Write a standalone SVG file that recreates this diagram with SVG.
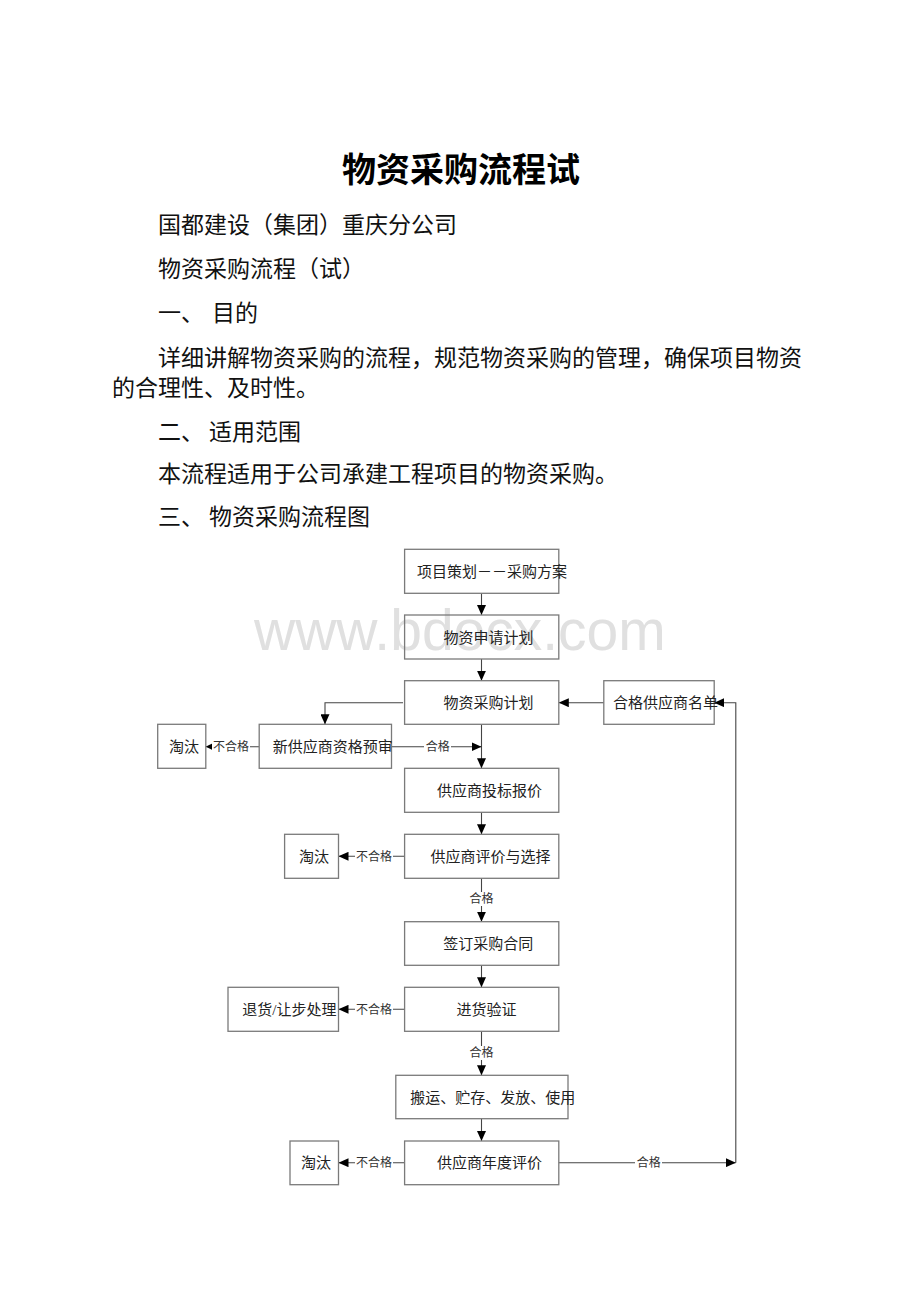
<svg xmlns="http://www.w3.org/2000/svg" width="920" height="1302" viewBox="0 0 920 1302">
<style>
.body{font-family:"Liberation Serif","Noto Sans CJK SC",serif;font-size:23px;fill:#111}
.title{font-family:"Liberation Serif","Noto Sans CJK SC",serif;font-size:34px;font-weight:bold;fill:#000}
.box{fill:none;stroke:#7a7a7a;stroke-width:1.3}
.bt{font-family:"Liberation Serif","Noto Sans CJK SC",serif;font-size:15px;fill:#222;text-anchor:middle}
.lbl{font-family:"Liberation Serif","Noto Sans CJK SC",serif;font-size:12px;fill:#333;text-anchor:middle}
.ln{fill:none;stroke:#444;stroke-width:1.1}
.wm{font-family:"Liberation Sans",Arial,sans-serif;font-size:57px;fill:#e0e0e0}
</style>
<defs>
<marker id="ah" markerUnits="userSpaceOnUse" markerWidth="10" markerHeight="9" refX="10" refY="4.5" orient="auto"><path d="M0,0 L10,4.5 L0,9 z" fill="#000"/></marker>
<marker id="ahs" markerUnits="userSpaceOnUse" markerWidth="7" markerHeight="7" refX="7" refY="3.5" orient="auto"><path d="M0,0 L7,3.5 L0,7 z" fill="#000"/></marker>
</defs>
<rect width="920" height="1302" fill="#fff"/>
<g id="watermark"><text class="wm" x="254" y="650">www.bdocx.com</text></g>
<g id="document-text">
<text class="title" x="461" y="182" text-anchor="middle">物资采购流程试</text>
<text class="body" x="158" y="233">国都建设（集团）重庆分公司</text>
<text class="body" x="158" y="277">物资采购流程（试）</text>
<text class="body" y="321"><tspan x="158">一、</tspan><tspan x="212">目的</tspan></text>
<text class="body" x="158" y="366">详细讲解物资采购的流程，规范物资采购的管理，确保项目物资</text>
<text class="body" x="112" y="396">的合理性、及时性。</text>
<text class="body" y="440"><tspan x="158">二、</tspan><tspan x="209">适用范围</tspan></text>
<text class="body" x="158" y="482">本流程适用于公司承建工程项目的物资采购。</text>
<text class="body" y="525"><tspan x="158">三、</tspan><tspan x="209">物资采购流程图</tspan></text>
</g>
<g id="connectors">
<path class="ln" d="M481.5,593.3 V615" marker-end="url(#ah)"/>
<path class="ln" d="M481.5,659 V680.7" marker-end="url(#ah)"/>
<path class="ln" d="M403,702.7 H325 V724.3" marker-end="url(#ah)"/>
<path class="ln" d="M603.8,702.7 H558.8" marker-end="url(#ah)"/>
<path class="ln" d="M481.5,724.3 V768.3" marker-end="url(#ah)"/>
<path class="ln" d="M391.5,746.7 H481.5" marker-end="url(#ah)"/>
<path class="ln" d="M259,746.7 H205.8" marker-end="url(#ahs)"/>
<path class="ln" d="M481.5,812.3 V834.3" marker-end="url(#ah)"/>
<path class="ln" d="M404.6,856.3 H338.5" marker-end="url(#ah)"/>
<path class="ln" d="M481.5,878.3 V921.7" marker-end="url(#ah)"/>
<path class="ln" d="M481.5,965.3 V987.3" marker-end="url(#ah)"/>
<path class="ln" d="M404.6,1009.3 H338.5" marker-end="url(#ah)"/>
<path class="ln" d="M481.5,1031.3 V1075.3" marker-end="url(#ah)"/>
<path class="ln" d="M481.5,1118.7 V1141" marker-end="url(#ah)"/>
<path class="ln" d="M404.6,1162.7 H338.5" marker-end="url(#ah)"/>
<path class="ln" d="M558.8,1162.7 H735.8" marker-end="url(#ah)"/>
<path class="ln" d="M735.8,1162.7 V702.7 H714.2" marker-end="url(#ah)"/>
<rect x="424" y="740" width="27" height="13" fill="#fff"/><text class="lbl" x="437.7" y="751">合格</text>
<rect x="212" y="740" width="38" height="13" fill="#fff"/><text class="lbl" x="231" y="751">不合格</text>
<rect x="355" y="850" width="38" height="13" fill="#fff"/><text class="lbl" x="374" y="860.7">不合格</text>
<rect x="468" y="892" width="27" height="14" fill="#fff"/><text class="lbl" x="481.5" y="903.4">合格</text>
<rect x="355" y="1003" width="38" height="13" fill="#fff"/><text class="lbl" x="374" y="1013.7">不合格</text>
<rect x="468" y="1046" width="27" height="14" fill="#fff"/><text class="lbl" x="481.5" y="1057.1">合格</text>
<rect x="355" y="1156" width="38" height="13" fill="#fff"/><text class="lbl" x="374" y="1167.1">不合格</text>
<rect x="635" y="1156" width="27" height="13" fill="#fff"/><text class="lbl" x="648.8" y="1167.1">合格</text>
</g>
<g id="n1"><rect class="box" x="404.6" y="549.3" width="154.2" height="44"/><text class="bt" x="492" y="576.8">项目策划－－采购方案</text></g>
<g id="n2"><rect class="box" x="404.6" y="615" width="154.2" height="44"/><text class="bt" x="488.5" y="642.5">物资申请计划</text></g>
<g id="n3"><rect class="box" x="404.6" y="680.7" width="154.2" height="43.6"/><text class="bt" x="488.5" y="708.2">物资采购计划</text></g>
<g id="n4"><rect class="box" x="603.8" y="680.7" width="110.4" height="43.6"/><text class="bt" x="665.4" y="708.2">合格供应商名单</text></g>
<g id="n5"><rect class="box" x="259.2" y="724.3" width="132.3" height="44"/><text class="bt" x="332.7" y="752">新供应商资格预审</text></g>
<g id="n6"><rect class="box" x="157.7" y="724.3" width="48.1" height="44"/><text class="bt" x="184" y="752">淘汰</text></g>
<g id="n7"><rect class="box" x="404.6" y="768.3" width="154.2" height="44"/><text class="bt" x="489.4" y="795.8">供应商投标报价</text></g>
<g id="n8"><rect class="box" x="404.6" y="834.3" width="154.2" height="44"/><text class="bt" x="490.6" y="861.8">供应商评价与选择</text></g>
<g id="n9"><rect class="box" x="284.6" y="834.3" width="53.9" height="44"/><text class="bt" x="314" y="861.8">淘汰</text></g>
<g id="n10"><rect class="box" x="404.6" y="921.7" width="154.2" height="43.6"/><text class="bt" x="488.3" y="949">签订采购合同</text></g>
<g id="n11"><rect class="box" x="404.6" y="987.3" width="154.2" height="44"/><text class="bt" x="486.5" y="1014.8">进货验证</text></g>
<g id="n12"><rect class="box" x="228" y="987.3" width="110.5" height="44"/><text class="bt" x="289.4" y="1014.8">退货/让步处理</text></g>
<g id="n13"><rect class="box" x="395.8" y="1075.3" width="172.2" height="43.4"/><text class="bt" x="492.8" y="1102.5">搬运、贮存、发放、使用</text></g>
<g id="n14"><rect class="box" x="404.6" y="1141" width="154.2" height="43.7"/><text class="bt" x="489.4" y="1168.3">供应商年度评价</text></g>
<g id="n15"><rect class="box" x="290" y="1141" width="48.5" height="43.7"/><text class="bt" x="316" y="1168.3">淘汰</text></g>
</svg>
